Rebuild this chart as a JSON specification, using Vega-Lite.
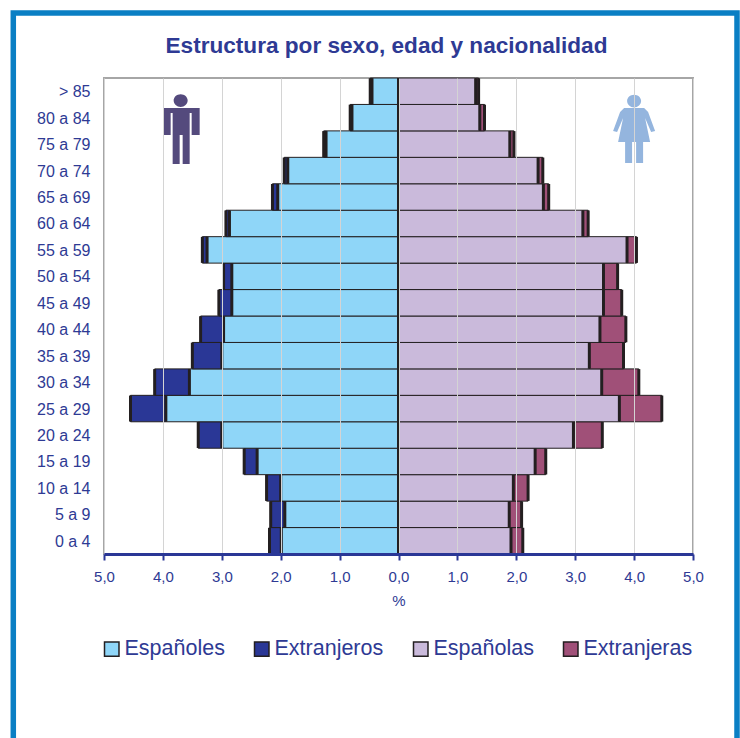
{"$schema":"https://vega.github.io/schema/vega-lite/v6.json","width":589,"height":476,"autosize":{"type":"none"},"padding":{"left":104,"top":78,"right":47,"bottom":184},"background":"#ffffff",
"config":{"font":"Liberation Sans","view":{"stroke":"#a6a6a6","strokeWidth":2}},
"title":{"text":"Estructura por sexo, edad y nacionalidad","font":"Liberation Sans","fontSize":22.6,"fontWeight":"bold","color":"#2e3a94","anchor":"middle","dx":-12,"offset":-47},
"data":{"values":[
{"edad":"0 a 4","sexo":"H","serie":"Españoles","valor":-1.99},{"edad":"0 a 4","sexo":"H","serie":"Extranjeros","valor":-0.20},{"edad":"0 a 4","sexo":"M","serie":"Españolas","valor":1.91},{"edad":"0 a 4","sexo":"M","serie":"Extranjeras","valor":0.20},
{"edad":"5 a 9","sexo":"H","serie":"Españoles","valor":-1.93},{"edad":"5 a 9","sexo":"H","serie":"Extranjeros","valor":-0.24},{"edad":"5 a 9","sexo":"M","serie":"Españolas","valor":1.88},{"edad":"5 a 9","sexo":"M","serie":"Extranjeras","valor":0.21},
{"edad":"10 a 14","sexo":"H","serie":"Españoles","valor":-2.00},{"edad":"10 a 14","sexo":"H","serie":"Extranjeros","valor":-0.24},{"edad":"10 a 14","sexo":"M","serie":"Españolas","valor":1.95},{"edad":"10 a 14","sexo":"M","serie":"Extranjeras","valor":0.25},
{"edad":"15 a 19","sexo":"H","serie":"Españoles","valor":-2.40},{"edad":"15 a 19","sexo":"H","serie":"Extranjeros","valor":-0.22},{"edad":"15 a 19","sexo":"M","serie":"Españolas","valor":2.32},{"edad":"15 a 19","sexo":"M","serie":"Extranjeras","valor":0.18},
{"edad":"20 a 24","sexo":"H","serie":"Españoles","valor":-3.00},{"edad":"20 a 24","sexo":"H","serie":"Extranjeros","valor":-0.40},{"edad":"20 a 24","sexo":"M","serie":"Españolas","valor":2.97},{"edad":"20 a 24","sexo":"M","serie":"Extranjeras","valor":0.49},
{"edad":"25 a 29","sexo":"H","serie":"Españoles","valor":-3.95},{"edad":"25 a 29","sexo":"H","serie":"Extranjeros","valor":-0.60},{"edad":"25 a 29","sexo":"M","serie":"Españolas","valor":3.75},{"edad":"25 a 29","sexo":"M","serie":"Extranjeras","valor":0.72},
{"edad":"30 a 34","sexo":"H","serie":"Españoles","valor":-3.55},{"edad":"30 a 34","sexo":"H","serie":"Extranjeros","valor":-0.59},{"edad":"30 a 34","sexo":"M","serie":"Españolas","valor":3.45},{"edad":"30 a 34","sexo":"M","serie":"Extranjeras","valor":0.63},
{"edad":"35 a 39","sexo":"H","serie":"Españoles","valor":-3.00},{"edad":"35 a 39","sexo":"H","serie":"Extranjeros","valor":-0.50},{"edad":"35 a 39","sexo":"M","serie":"Españolas","valor":3.24},{"edad":"35 a 39","sexo":"M","serie":"Extranjeras","valor":0.58},
{"edad":"40 a 44","sexo":"H","serie":"Españoles","valor":-2.97},{"edad":"40 a 44","sexo":"H","serie":"Extranjeros","valor":-0.39},{"edad":"40 a 44","sexo":"M","serie":"Españolas","valor":3.42},{"edad":"40 a 44","sexo":"M","serie":"Extranjeras","valor":0.44},
{"edad":"45 a 49","sexo":"H","serie":"Españoles","valor":-2.83},{"edad":"45 a 49","sexo":"H","serie":"Extranjeros","valor":-0.22},{"edad":"45 a 49","sexo":"M","serie":"Españolas","valor":3.48},{"edad":"45 a 49","sexo":"M","serie":"Extranjeras","valor":0.31},
{"edad":"50 a 54","sexo":"H","serie":"Españoles","valor":-2.83},{"edad":"50 a 54","sexo":"H","serie":"Extranjeros","valor":-0.14},{"edad":"50 a 54","sexo":"M","serie":"Españolas","valor":3.48},{"edad":"50 a 54","sexo":"M","serie":"Extranjeras","valor":0.24},
{"edad":"55 a 59","sexo":"H","serie":"Españoles","valor":-3.25},{"edad":"55 a 59","sexo":"H","serie":"Extranjeros","valor":-0.08},{"edad":"55 a 59","sexo":"M","serie":"Españolas","valor":3.88},{"edad":"55 a 59","sexo":"M","serie":"Extranjeras","valor":0.16},
{"edad":"60 a 64","sexo":"H","serie":"Españoles","valor":-2.87},{"edad":"60 a 64","sexo":"H","serie":"Extranjeros","valor":-0.06},{"edad":"60 a 64","sexo":"M","serie":"Españolas","valor":3.13},{"edad":"60 a 64","sexo":"M","serie":"Extranjeras","valor":0.09},
{"edad":"65 a 69","sexo":"H","serie":"Españoles","valor":-2.05},{"edad":"65 a 69","sexo":"H","serie":"Extranjeros","valor":-0.09},{"edad":"65 a 69","sexo":"M","serie":"Españolas","valor":2.46},{"edad":"65 a 69","sexo":"M","serie":"Extranjeras","valor":0.09},
{"edad":"70 a 74","sexo":"H","serie":"Españoles","valor":-1.88},{"edad":"70 a 74","sexo":"H","serie":"Extranjeros","valor":-0.06},{"edad":"70 a 74","sexo":"M","serie":"Españolas","valor":2.37},{"edad":"70 a 74","sexo":"M","serie":"Extranjeras","valor":0.08},
{"edad":"75 a 79","sexo":"H","serie":"Españoles","valor":-1.23},{"edad":"75 a 79","sexo":"H","serie":"Extranjeros","valor":-0.04},{"edad":"75 a 79","sexo":"M","serie":"Españolas","valor":1.89},{"edad":"75 a 79","sexo":"M","serie":"Extranjeras","valor":0.07},
{"edad":"80 a 84","sexo":"H","serie":"Españoles","valor":-0.79},{"edad":"80 a 84","sexo":"H","serie":"Extranjeros","valor":-0.03},{"edad":"80 a 84","sexo":"M","serie":"Españolas","valor":1.38},{"edad":"80 a 84","sexo":"M","serie":"Extranjeras","valor":0.08},
{"edad":"> 85","sexo":"H","serie":"Españoles","valor":-0.45},{"edad":"> 85","sexo":"H","serie":"Extranjeros","valor":-0.03},{"edad":"> 85","sexo":"M","serie":"Españolas","valor":1.31},{"edad":"> 85","sexo":"M","serie":"Extranjeras","valor":0.05}
]},
"transform":[{"stack":"valor","groupby":["edad","sexo"],"sort":[{"field":"serie","order":"ascending"}],"as":["v0","v1"]}],
"layer":[
{"data":{"values":[{}]},"transform":[],"mark":{"type":"rect","fill":"transparent","stroke":"#0a7fc4","strokeWidth":5.5},
 "encoding":{"x":{"datum":-6.54,"type":"quantitative","scale":{"domain":[-5,5],"nice":false}},"x2":{"datum":5.747},"y":{"value":-65},"y2":{"value":800}}},
{"mark":{"type":"bar","stroke":"#231f20","strokeWidth":1},
 "encoding":{
  "x":{"field":"v0","type":"quantitative","scale":{"domain":[-5,5],"nice":false},"axis":{"values":[-5,-4,-3,-2,-1,0,1,2,3,4,5],"labelExpr":"replace(format(abs(datum.value),'.1f'),'.',',')","title":"%","titleFont":"Liberation Sans","titleFontWeight":"normal","titleFontSize":15,"titleColor":"#2e3a94","titlePadding":9,"labelFont":"Liberation Sans","labelFontSize":15,"labelColor":"#2e3a94","labelPadding":9,"labelOverlap":false,"labelFlush":false,"tickColor":"#2a3796","tickSize":6,"tickWidth":2,"domainColor":"#2a3796","domainWidth":3,"grid":true,"gridColor":"#d4d4d4","gridWidth":1,"zindex":1}},
  "x2":{"field":"v1"},
  "y":{"field":"edad","type":"nominal","title":null,"sort":null,"scale":{"domain":["> 85","80 a 84","75 a 79","70 a 74","65 a 69","60 a 64","55 a 59","50 a 54","45 a 49","40 a 44","35 a 39","30 a 34","25 a 29","20 a 24","15 a 19","10 a 14","5 a 9","0 a 4"],"paddingInner":0,"paddingOuter":0},"axis":{"domain":false,"ticks":false,"labelFont":"Liberation Sans","labelFontSize":16,"labelColor":"#2e3a94","labelPadding":14,"labelOffset":1}},
  "color":{"field":"serie","type":"nominal","scale":{"domain":["Españoles","Extranjeros","Españolas","Extranjeras"],"range":["#8fd6f8","#2a3796","#cabadb","#a05078"]},"legend":{"title":null,"orient":"none","legendX":-3,"legendY":560,"direction":"horizontal","columns":4,"columnPadding":26,"symbolType":"square","symbolSize":210,"symbolStrokeColor":"#231f20","symbolStrokeWidth":1.5,"labelFont":"Liberation Sans","labelFontSize":21.5,"labelColor":"#2e3a94","labelOffset":2,"labelLimit":200}}
 }},
{"mark":{"type":"tick","color":"#231f20","thickness":3,"size":26,"opacity":1},
 "encoding":{"x":{"field":"v1","type":"quantitative"},"y":{"field":"edad","type":"nominal","sort":null}}},
{"data":{"values":[{}]},"transform":[],"mark":{"type":"rule","color":"#231f20","strokeWidth":3},"encoding":{"x":{"datum":0,"type":"quantitative"}}},
{"data":{"values":[{}]},"transform":[],"mark":{"type":"point","filled":true,"opacity":1,"size":6400,"color":"#544a7d","shape":"M-0.4375 -0.9L0.4625 -0.9L0.4625 -0.225L0.2625 -0.225L0.2625 -0.775L0.2125 -0.775L0.2125 0.5L0.0375 0.5L0.0375 -0.225L-0.0375 -0.225L-0.0375 0.5L-0.2125 0.5L-0.2125 -0.775L-0.2625 -0.775L-0.2625 -0.225L-0.4375 -0.225ZM-0.1875 -1.0875A0.175 0.16 0 1 0 0.1625 -1.0875A0.175 0.16 0 1 0 -0.1875 -1.0875Z"},
 "encoding":{"x":{"datum":-3.69,"type":"quantitative"},"y":{"datum":"75 a 79","type":"nominal"}}},
{"data":{"values":[{}]},"transform":[],"mark":{"type":"point","filled":true,"opacity":1,"size":6400,"color":"#94b5de","shape":"M-0.25 -0.9L0.25 -0.9L0.35 -0.8L0.525 -0.325L0.425 -0.3L0.275 -0.65L0.4 -0.05L0.225 -0.05L0.225 0.475L0.05 0.475L0.05 -0.05L-0.05 -0.05L-0.05 0.475L-0.225 0.475L-0.225 -0.05L-0.4 -0.05L-0.275 -0.65L-0.425 -0.3L-0.525 -0.325L-0.35 -0.8ZM-0.175 -1.075A0.175 0.16 0 1 0 0.175 -1.075A0.175 0.16 0 1 0 -0.175 -1.075Z"},
 "encoding":{"x":{"datum":4.0,"type":"quantitative"},"y":{"datum":"75 a 79","type":"nominal"}}}
]}
